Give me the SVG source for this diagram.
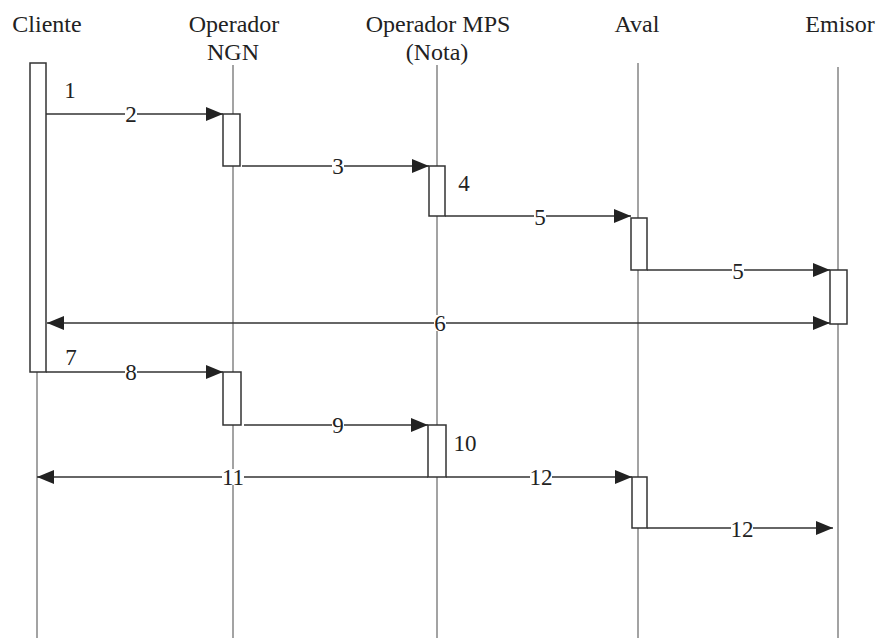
<svg xmlns="http://www.w3.org/2000/svg" width="879" height="644" viewBox="0 0 879 644">
<defs>
<marker id="ah" markerUnits="userSpaceOnUse" markerWidth="18" markerHeight="14" refX="17" refY="7" orient="auto-start-reverse" viewBox="0 0 18 14">
<path d="M0,0 L17,7 L0,14 z" fill="#222"/>
</marker>
</defs>
<rect width="879" height="644" fill="#fff"/>
<g id="lifelines" font-family="Liberation Serif" font-size="24" fill="#222" text-anchor="middle">
<g id="cliente">
<text x="47" y="32">Cliente</text>
<line x1="37" y1="372" x2="37" y2="638" stroke="#666" stroke-width="1.2"/>
<rect x="30" y="63" width="16" height="309" fill="#fff" stroke="#333" stroke-width="1.5"/>
</g>
<g id="operador-ngn">
<text x="234" y="32">Operador</text>
<text x="233" y="60">NGN</text>
<line x1="233" y1="65" x2="233" y2="638" stroke="#666" stroke-width="1.2"/>
<rect x="223" y="114" width="17" height="52" fill="#fff" stroke="#333" stroke-width="1.5"/>
<rect x="223" y="372" width="18" height="53" fill="#fff" stroke="#333" stroke-width="1.5"/>
</g>
<g id="operador-mps">
<text x="438" y="32">Operador MPS</text>
<text x="437" y="60">(Nota)</text>
<line x1="437" y1="65" x2="437" y2="638" stroke="#666" stroke-width="1.2"/>
<rect x="429" y="166" width="16" height="50" fill="#fff" stroke="#333" stroke-width="1.5"/>
<rect x="428" y="425" width="18" height="52" fill="#fff" stroke="#333" stroke-width="1.5"/>
</g>
<g id="aval">
<text x="637" y="32">Aval</text>
<line x1="638" y1="63" x2="638" y2="638" stroke="#666" stroke-width="1.2"/>
<rect x="631" y="218" width="16" height="52" fill="#fff" stroke="#333" stroke-width="1.5"/>
<rect x="632" y="477" width="15" height="51" fill="#fff" stroke="#333" stroke-width="1.5"/>
</g>
<g id="emisor">
<text x="840" y="32">Emisor</text>
<line x1="838" y1="67" x2="838" y2="638" stroke="#666" stroke-width="1.2"/>
<rect x="830" y="270" width="17" height="54" fill="#fff" stroke="#333" stroke-width="1.5"/>
</g>
</g>
<g id="connectors" stroke="#333" stroke-width="1.3" fill="none" marker-end="url(#ah)">
<line x1="46" y1="114" x2="223" y2="114"/>
<line x1="242" y1="166" x2="429" y2="166"/>
<line x1="445" y1="216" x2="631" y2="216"/>
<line x1="647" y1="270" x2="830" y2="270"/>
<line x1="47" y1="323" x2="830" y2="323" marker-start="url(#ah)"/>
<line x1="46" y1="372" x2="223" y2="372"/>
<line x1="244" y1="425" x2="428" y2="425"/>
<line x1="428" y1="477" x2="37" y2="477"/>
<line x1="446" y1="477" x2="632" y2="477"/>
<line x1="647" y1="528" x2="833" y2="528"/>
</g>
<g id="labels" font-family="Liberation Serif" font-size="23" fill="#222" text-anchor="middle">
<g fill="#fff">
<rect x="125" y="106" width="12" height="16"/>
<rect x="332" y="158" width="12" height="16"/>
<rect x="534" y="208" width="12" height="16"/>
<rect x="732" y="262" width="12" height="16"/>
<rect x="434" y="315" width="12" height="16"/>
<rect x="125" y="364" width="12" height="16"/>
<rect x="332" y="417" width="12" height="16"/>
<rect x="222" y="469" width="22" height="16"/>
<rect x="530" y="469" width="22" height="16"/>
<rect x="731" y="520" width="22" height="16"/>
</g>
<text x="70" y="98">1</text>
<text x="131" y="122">2</text>
<text x="338" y="174">3</text>
<text x="464" y="191">4</text>
<text x="540" y="225">5</text>
<text x="738" y="279">5</text>
<text x="440" y="331">6</text>
<text x="71" y="365">7</text>
<text x="131" y="380">8</text>
<text x="338" y="433">9</text>
<text x="465" y="451">10</text>
<text x="233" y="485">11</text>
<text x="541" y="485">12</text>
<text x="742" y="537">12</text>
</g>
</svg>
